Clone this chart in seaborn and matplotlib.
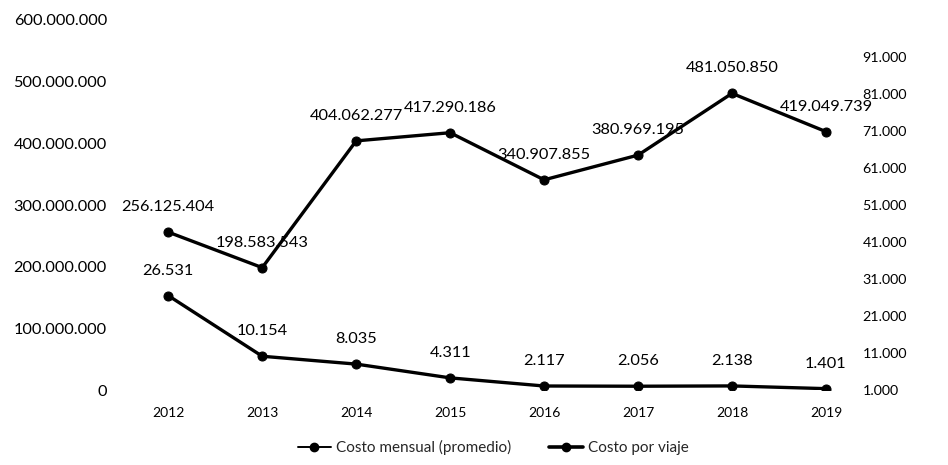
import matplotlib
matplotlib.use("Agg")
import matplotlib.pyplot as plt
import seaborn as sns
import pandas as pd
from matplotlib.ticker import FuncFormatter
from matplotlib.lines import Line2D

sns.set_theme(style="white")
plt.rcParams["font.family"] = ["Lato", "DejaVu Sans"]

years = [2012, 2013, 2014, 2015, 2016, 2017, 2018, 2019]
costo_mensual = [256125404, 198583543, 404062277, 417290186,
                 340907855, 380969195, 481050850, 419049739]
costo_viaje = [26531, 10154, 8035, 4311, 2117, 2056, 2138, 1401]

left_ticks = [0, 100000000, 200000000, 300000000, 400000000, 500000000, 600000000]
right_ticks = [1000, 11000, 21000, 31000, 41000, 51000, 61000, 71000, 81000, 91000]

df = pd.DataFrame({"year": years, "mensual": costo_mensual, "viaje": costo_viaje})


def dotted(v):
    return f"{int(round(v)):,}".replace(",", ".")


fig = plt.figure(figsize=(9.48, 4.65), dpi=100)
ax = fig.add_axes([0.123, 0.161, 0.778, 0.796])
ax2 = ax.twinx()

line_kw = dict(color="black", linewidth=2.4, marker="o", markersize=6.5,
               markeredgecolor="black", legend=False)
sns.lineplot(data=df, x="year", y="mensual", ax=ax, **line_kw)
sns.lineplot(data=df, x="year", y="viaje", ax=ax2, **line_kw)

ax.set_xlim(2011.45, 2019.3)
ax.set_ylim(0, 600000000)
ax2.set_ylim(1000, 101000)
ax.set_yticks(left_ticks)
ax2.set_yticks(right_ticks)
ax.set_xticks(years)
ax.set_xticklabels([str(y) for y in years])
ax.yaxis.set_major_formatter(FuncFormatter(lambda v, p: dotted(v)))
ax2.yaxis.set_major_formatter(FuncFormatter(lambda v, p: dotted(v)))

for a in (ax, ax2):
    for s in a.spines.values():
        s.set_visible(False)
    a.tick_params(axis="both", length=0, labelsize=10, colors="black")
    a.set_xlabel("")
    a.set_ylabel("")
    a.grid(False)
ax.tick_params(axis="y", pad=7, labelsize=11.8)
ax2.tick_params(axis="y", pad=6, labelsize=10.3)
ax.tick_params(axis="x", pad=12)

for x, y in zip(years, costo_mensual):
    ax.annotate(dotted(y), (x, y), xytext=(0, 18), textcoords="offset points",
                ha="center", va="center", fontsize=11.8, color="black")
for x, y in zip(years, costo_viaje):
    ax2.annotate(dotted(y), (x, y), xytext=(0, 18), textcoords="offset points",
                 ha="center", va="center", fontsize=11.8, color="black")

handles = [
    Line2D([], [], color="black", linewidth=1.4, marker="o", markersize=6),
    Line2D([], [], color="black", linewidth=2.6, marker="o", markersize=6),
]
fig.legend(handles, ["Costo mensual (promedio)", "Costo por viaje"],
           loc="center", bbox_to_anchor=(0.52, 0.037), ncol=2, frameon=False,
           fontsize=11, handlelength=2.2, handletextpad=0.3, columnspacing=2.5)

fig.savefig("out.png", dpi=100)
